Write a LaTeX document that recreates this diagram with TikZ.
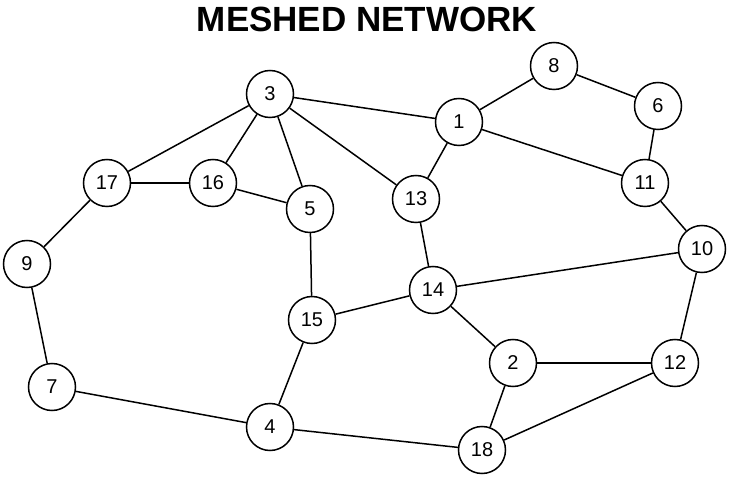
\documentclass[tikz,border=0pt]{standalone}
\usepackage{fontspec}
\setmainfont{Liberation Sans}
\begin{document}
\begin{tikzpicture}[x=1pt, y=-1pt, line width=1.5pt,
    every node/.style={circle, draw, minimum size=47pt, inner sep=0pt, font=\fontsize{20}{20}\selectfont}]
    \useasboundingbox (0,0) rectangle (729,478);
    \node[draw=none, rectangle, minimum size=0pt, font=\fontsize{35}{35}\bfseries] (title) at (367,19) {MESHED NETWORK};

    \node (n3)  at (270,94)  {3};
    \node (n1)  at (459,122) {1};
    \node (n8)  at (554,66)  {8};
    \node (n6)  at (658,106) {6};
    \node (n17) at (107,183) {17};
    \node (n16) at (213,183) {16};
    \node (n5)  at (310,209) {5};
    \node (n13) at (416,199) {13};
    \node (n11) at (645,183) {11};
    \node (n10) at (702,249) {10};
    \node (n9)  at (27,264)  {9};
    \node (n14) at (433,290) {14};
    \node (n15) at (312,320) {15};
    \node (n2)  at (513,363) {2};
    \node (n12) at (675,363) {12};
    \node (n7)  at (52,387)  {7};
    \node (n4)  at (270,427) {4};
    \node (n18) at (482,450) {18};

    \draw (n3) -- (n1);
    \draw (n3) -- (n17);
    \draw (n3) -- (n16);
    \draw (n3) -- (n5);
    \draw (n3) -- (n13);
    \draw (n1) -- (n8);
    \draw (n1) -- (n13);
    \draw (n1) -- (n11);
    \draw (n8) -- (n6);
    \draw (n6) -- (n11);
    \draw (n11) -- (n10);
    \draw (n17) -- (n16);
    \draw (n16) -- (n5);
    \draw (n17) -- (n9);
    \draw (n9) -- (n7);
    \draw (n7) -- (n4);
    \draw (n4) -- (n15);
    \draw (n4) -- (n18);
    \draw (n5) -- (n15);
    \draw (n15) -- (n14);
    \draw (n13) -- (n14);
    \draw (n14) -- (n10);
    \draw (n14) -- (n2);
    \draw (n2) -- (n12);
    \draw (n2) -- (n18);
    \draw (n18) -- (n12);
    \draw (n10) -- (n12);
  \end{tikzpicture}
\end{document}
